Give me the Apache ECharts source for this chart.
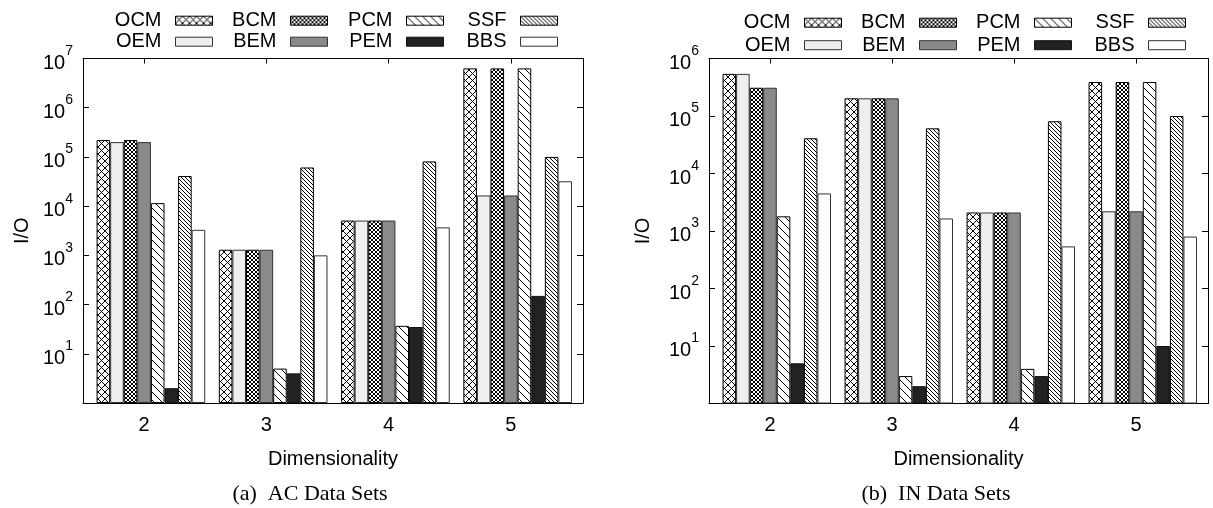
<!DOCTYPE html>
<html>
<head>
<meta charset="utf-8">
<script src="https://cdn.jsdelivr.net/npm/echarts@6/dist/echarts.min.js"></script>
<style>
html,body{margin:0;padding:0;background:#fff;}
#chart{width:1213px;height:508px;}
</style>
</head>
<body>
<div id="chart"></div>
<script>
// ---- data ----
const dimensionality = [2, 3, 4, 5];
const seriesNames = ['OCM', 'OEM', 'BCM', 'BEM', 'PCM', 'PEM', 'SSF', 'BBS'];
// (a) AC data sets
const acOCM = [220000, 1300, 5100, 6300000];
const acOEM = [200000, 1300, 5100, 16500];
const acBCM = [220000, 1300, 5100, 6300000];
const acBEM = [200000, 1300, 5100, 16500];
const acPCM = [11500, 5, 37, 6300000];
const acPEM = [2, 4, 35, 150];
const acSSF = [41000, 61000, 81000, 100000];
const acBBS = [3300, 1000, 3700, 32000];
// (b) IN data sets
const inOCM = [540000, 203000, 2100, 390000];
const inOEM = [540000, 203000, 2100, 2200];
const inBCM = [310000, 203000, 2100, 390000];
const inBEM = [310000, 203000, 2100, 2200];
const inPCM = [1800, 3, 4, 390000];
const inPEM = [5, 2, 3, 10];
const inSSF = [41000, 61000, 81000, 100000];
const inBBS = [4500, 1650, 540, 800];
const yTicksAC = [1, 10, 100, 1000, 10000, 100000, 1000000, 10000000];
const yTicksIN = [1, 10, 100, 1000, 10000, 100000, 1000000];
const captions = ['(a)  AC Data Sets', '(b)  IN Data Sets'];

const acData = [acOCM, acOEM, acBCM, acBEM, acPCM, acPEM, acSSF, acBBS];
const inData = [inOCM, inOEM, inBCM, inBEM, inPCM, inPEM, inSSF, inBBS];

// ---- patterns ----
function hatch(size, dirs, bg, lw) {
  const c = document.createElement('canvas');
  c.width = size; c.height = size;
  const g = c.getContext('2d');
  g.fillStyle = bg; g.fillRect(0, 0, size, size);
  g.strokeStyle = '#000'; g.lineWidth = lw;
  for (const d of dirs) {
    for (let k = -1; k <= 1; k++) {
      g.beginPath();
      if (d === '\\') { g.moveTo(k * size, 0); g.lineTo(k * size + size, size); }
      else { g.moveTo(k * size, size); g.lineTo(k * size + size, 0); }
      g.stroke();
    }
  }
  return { image: c, repeat: 'repeat' };
}
const styles = {
  OCM: { color: hatch(7, ['\\', '/'], '#fff', 1), borderColor: '#000' },
  OEM: { color: '#efefef', borderColor: '#333' },
  BCM: { color: hatch(4, ['\\', '/'], '#fff', 1), borderColor: '#000' },
  BEM: { color: '#8a8a8a', borderColor: '#333' },
  PCM: { color: hatch(8, ['\\'], '#fff', 1), borderColor: '#000' },
  PEM: { color: '#222222', borderColor: '#111' },
  SSF: { color: hatch(4, ['\\'], '#fff', 1), borderColor: '#000' },
  BBS: { color: '#ffffff', borderColor: '#333' }
};

const FONT = 'Liberation Sans';
const FS = 20;
const xMin = 1.5, xMax = 5.59;
const grids = [
  { left: 83, top: 58.5, width: 500, height: 344.5 },
  { left: 709, top: 58.5, width: 499, height: 345 }
];
const yMax = [yTicksAC[yTicksAC.length - 1], yTicksIN[yTicksIN.length - 1]];
const nameGaps = [51, 56];

const xAxes = [], yAxes = [], series = [];
grids.forEach((gr, gi) => {
  xAxes.push({
    type: 'value', gridIndex: gi, position: 'bottom', min: xMin, max: xMax,
    name: 'Dimensionality', nameLocation: 'middle', nameGap: 46,
    nameTextStyle: { fontFamily: FONT, fontSize: FS, color: '#000' },
    axisLine: { show: true, onZero: false, lineStyle: { color: '#000', width: 1 } },
    axisTick: { show: true, inside: true, length: 5, customValues: dimensionality, lineStyle: { color: '#000' } },
    axisLabel: { show: true, customValues: dimensionality, margin: 12, fontFamily: FONT, fontSize: FS, color: '#000', formatter: v => String(v) },
    splitLine: { show: false }
  });
  xAxes.push({
    type: 'value', gridIndex: gi, position: 'top', min: xMin, max: xMax,
    axisLine: { show: true, onZero: false, lineStyle: { color: '#000', width: 1 } },
    axisTick: { show: true, inside: true, length: 5, customValues: dimensionality, lineStyle: { color: '#000' } },
    axisLabel: { show: false },
    splitLine: { show: false }
  });
  const ticks = gi === 0 ? yTicksAC : yTicksIN;
  yAxes.push({
    type: 'log', logBase: 10, gridIndex: gi, position: 'left', min: 1, max: yMax[gi],
    name: 'I/O', nameLocation: 'middle', nameGap: nameGaps[gi],
    nameTextStyle: { fontFamily: FONT, fontSize: FS, color: '#000' },
    axisLine: { show: true, lineStyle: { color: '#000', width: 1 } },
    axisTick: { show: true, inside: true, length: 6, customValues: ticks, lineStyle: { color: '#000' } },
    axisLabel: {
      show: true, margin: 10, customValues: ticks,
      formatter: v => { const e = Math.round(Math.log10(v)); return e === 0 ? '' : '{b|10}{s|' + e + '}'; },
      rich: {
        b: { fontFamily: FONT, fontSize: FS, color: '#000', padding: [9, 0, 0, 0] },
        s: { fontFamily: FONT, fontSize: 14, color: '#000', verticalAlign: 'top' }
      }
    },
    splitLine: { show: false }
  });
  yAxes.push({
    type: 'log', logBase: 10, gridIndex: gi, position: 'right', min: 1, max: yMax[gi],
    axisLine: { show: true, lineStyle: { color: '#000', width: 1 } },
    axisTick: { show: true, inside: true, length: 6, customValues: ticks, lineStyle: { color: '#000' } },
    axisLabel: { show: false },
    splitLine: { show: false }
  });
  const barW = gr.width / (xMax - xMin) / 9;
  // empty leading slot (cluster gap), as in the original clustered histogram
  series.push({
    type: 'bar', name: '', xAxisIndex: gi * 2, yAxisIndex: gi * 2,
    barWidth: barW, barGap: '0%',
    data: dimensionality.map(d => [d, '-'])
  });
  const vals = gi === 0 ? acData : inData;
  seriesNames.forEach((n, si) => {
    series.push({
      type: 'bar', name: n, xAxisIndex: gi * 2, yAxisIndex: gi * 2,
      barWidth: barW, barGap: '0%',
      itemStyle: Object.assign({ borderWidth: 1 }, styles[n]),
      emphasis: { disabled: true },
      data: dimensionality.map((d, i) => [d, vals[si][i]])
    });
  });
});

// legends: 4 columns per chart, 2 rows
const legendRights = [[1000, 885, 769, 655], [371, 256, 141, 27]];
const legendTops = [10.7, 12.7];
const legendGaps = [1, 2.5];
const legends = [];
[0, 1].forEach(gi => {
  for (let c = 0; c < 4; c++) {
    legends.push({
      orient: 'vertical', align: 'right', right: legendRights[gi][c], top: legendTops[gi],
      padding: 0, itemGap: legendGaps[gi], itemWidth: 37, itemHeight: 9,
      icon: 'rect',
      selectedMode: false,
      data: [seriesNames[2 * c], seriesNames[2 * c + 1]],
      itemStyle: { borderWidth: 1 },
      textStyle: { fontFamily: FONT, fontSize: FS, color: '#000', padding: [0, 9, 0, 0] }
    });
  }
});

const chart = echarts.init(document.getElementById('chart'), null, { renderer: 'canvas' });
chart.setOption({
  animation: false,
  backgroundColor: '#fff',
  textStyle: { fontFamily: FONT },
  grid: grids.map(g => Object.assign({ containLabel: false }, g)),
  xAxis: xAxes,
  yAxis: yAxes,
  legend: legends,
  series: series,
  graphic: [
    { type: 'text', x: 310, y: 494, style: { text: captions[0], fontFamily: 'Liberation Serif', fontSize: 22, fill: '#000', align: 'center', verticalAlign: 'middle' } },
    { type: 'text', x: 936, y: 494, style: { text: captions[1], fontFamily: 'Liberation Serif', fontSize: 22, fill: '#000', align: 'center', verticalAlign: 'middle' } }
  ]
});
</script>
</body>
</html>
